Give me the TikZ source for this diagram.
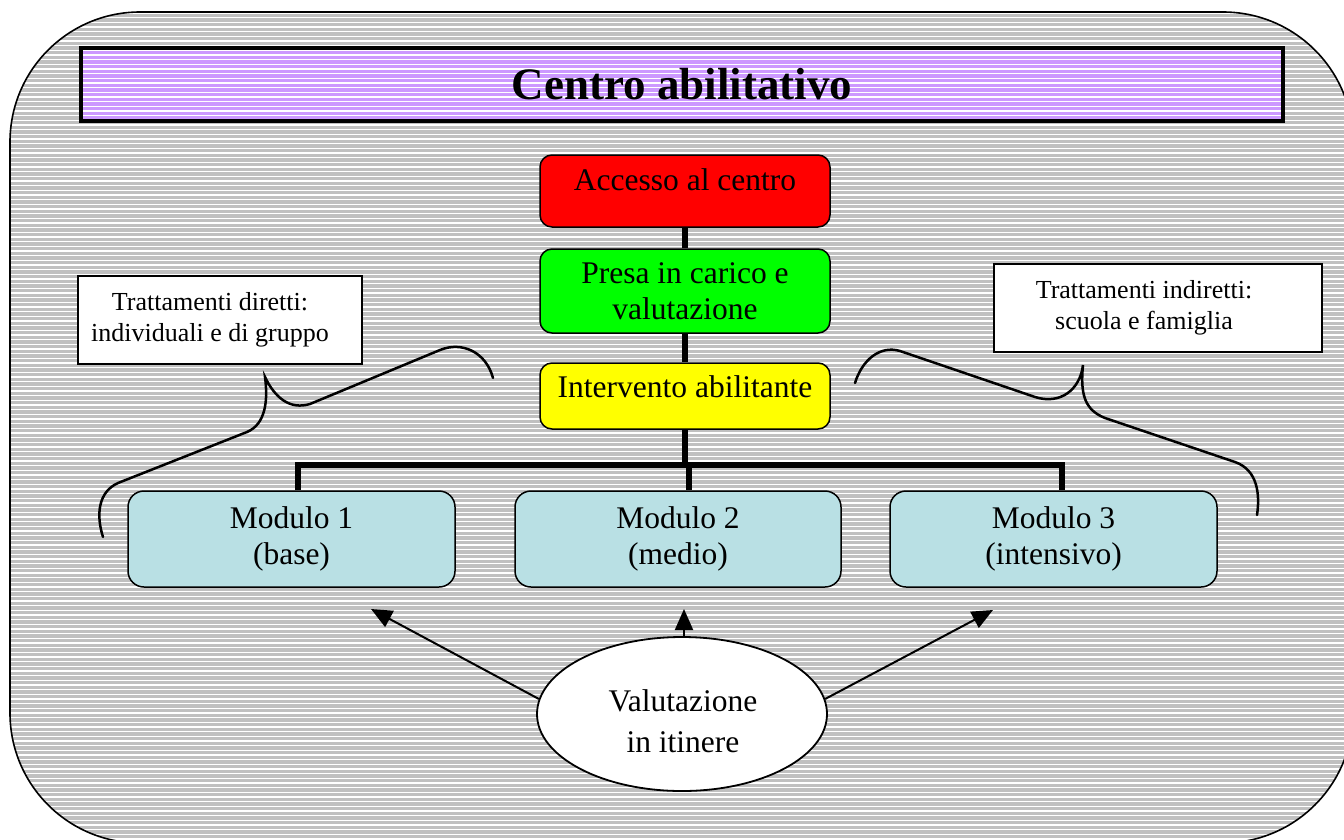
\documentclass[tikz,border=0pt]{standalone}
\usepackage{fontspec}
\setmainfont{Liberation Serif}
\usetikzlibrary{shapes.geometric,arrows.meta,calc}
\definecolor{bggray}{RGB}{192,192,192}
\definecolor{titlepurple}{RGB}{204,153,255}
\definecolor{modblue}{RGB}{185,224,228}
\definecolor{accred}{RGB}{255,0,0}
\definecolor{presagreen}{RGB}{0,255,0}
\definecolor{intyellow}{RGB}{255,255,0}
\newcommand\myhatch{\foreach \i in {0,...,182} {\draw[white, line width=1.2pt] (0,{13+\i*4.667}) -- (1344,{13+\i*4.667});}}
\tikzset{
  stage/.style={draw, line width=1.5pt, rounded corners=12pt, minimum width=290pt, inner sep=0pt, font=\fontsize{31.5}{36}\selectfont, align=center},
  modbox/.style={draw, fill=modblue, line width=1.5pt, rounded corners=16pt, minimum height=96pt, inner sep=0pt, font=\fontsize{31.5}{36}\selectfont, align=center},
  sidebox/.style={draw, fill=white, line width=1.2pt, minimum height=88pt, inner sep=0pt},
  sidetext/.style={font=\fontsize{26}{31}\selectfont, align=center, inner sep=0pt},
  conn/.style={line width=6pt},
  brace/.style={line width=2.5pt, line cap=round},
  arr/.style={line width=2pt, -{Triangle[length=21pt,width=18pt]}},
}
\begin{document}
\begin{tikzpicture}[x=1pt,y=-1pt]
\useasboundingbox (0,0) rectangle (1344,839);
\clip (0,0) rectangle (1344,839);
% background frame
\path[fill=bggray, rounded corners=130pt] (10,12) rectangle (1353,843);
\begin{scope}
  \clip[rounded corners=130pt] (10,12) rectangle (1353,843);
  \myhatch
\end{scope}
\draw[line width=1.6pt, rounded corners=130pt] (10,12) rectangle (1353,843);
% title
\path[fill=titlepurple] (81,48) rectangle (1283,121);
\begin{scope}
  \clip (81,48) rectangle (1283,121);
  \myhatch
\end{scope}
\node[draw, line width=3.5pt, minimum width=1202pt, minimum height=73pt, inner sep=0pt,
      font=\fontsize{45}{50}\selectfont\bfseries] (title) at (682,84.5) {Centro abilitativo};
% stages
\node[stage, fill=accred, text height=35pt, text depth=37pt] (acc) at (685,191) {Accesso al centro};
\node[stage, fill=presagreen, minimum height=84pt] (presa) at (685,291) {Presa in carico e\\valutazione};
\node[stage, fill=intyellow, text height=34pt, text depth=32pt] (int) at (685,396) {Intervento abilitante};
% modules
\node[modbox, minimum width=327pt] (m1) at (291.5,539) {Modulo 1\\(base)};
\node[modbox, minimum width=326pt] (m2) at (678,539) {Modulo 2\\(medio)};
\node[modbox, minimum width=327pt] (m3) at (1053.5,539) {Modulo 3\\(intensivo)};
% connectors
\draw[conn] (acc.south) -- (presa.north);
\draw[conn] (presa.south) -- (int.north);
\coordinate (bar) at (685,465);
\coordinate (bl) at (298,465);
\coordinate (bm) at (689,465);
\coordinate (br) at (1062,465);
\draw[conn] (int.south) -- (bar);
\draw[conn] (bl |- m1.north) -- (bl) -- (br) -- (br |- m3.north);
\draw[conn] (bm) -- (bm |- m2.north);
% side boxes
\node[sidebox, minimum width=284pt] (dir) at (220,320) {};
\node[sidetext] (dirtxt) at (210,320) {Trattamenti diretti:\\individuali e di gruppo};
\node[sidebox, minimum width=328pt] (ind) at (1158,308) {};
\node[sidetext] (indtxt) at (1144,308) {Trattamenti indiretti:\\scuola e famiglia};
% braces
\draw[brace] (103,537) .. controls (96,515) and (98,492) .. (118,483) -- (247,432)
  .. controls (266,424) and (268,400) .. (265,377)
  .. controls (275,398) and (290,410) .. (310,404) -- (440,350)
  .. controls (462,341) and (486,352) .. (493,378);
\draw[brace] (855,383) .. controls (862,360) and (880,345) .. (900,351) -- (1035,397)
  .. controls (1060,405) and (1080,390) .. (1083,365)
  .. controls (1080,395) and (1085,410) .. (1105,418) -- (1235,462)
  .. controls (1258,470) and (1260,495) .. (1257,515);
% evaluation
\node[ellipse, draw, fill=white, line width=1.8pt, minimum width=290pt, minimum height=154pt, inner sep=0pt] (val) at (682,714) {};
\node[font=\fontsize{31.5}{41.5}\selectfont, align=center, inner sep=0pt] (valtxt) at (683,721) {Valutazione\\in itinere};
\coordinate (t1) at (371,609);
\coordinate (t2) at (684,609);
\coordinate (t3) at (993,610);
\draw[arr] (val.174) -- (t1);
\draw[arr] (val.north -| t2) -- (t2);
\draw[arr] (val.6) -- (t3);
\end{tikzpicture}
\end{document}
